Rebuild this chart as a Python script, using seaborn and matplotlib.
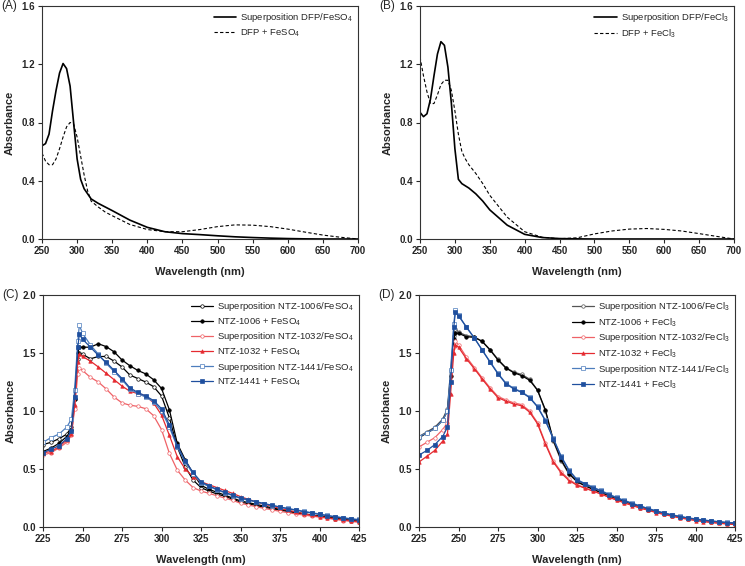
import matplotlib
matplotlib.use("Agg")
import matplotlib.pyplot as plt
import seaborn as sns

# panel A / B : DFP with iron salts
wl_ab = [250, 255, 260, 265, 270, 275, 280, 285, 290, 295, 300, 305, 310, 315, 320,
         330, 340, 350, 375, 400, 425, 450, 475, 500, 525, 550, 575, 600, 625, 650, 675, 700]
a_sup = [0.64, 0.655, 0.72, 0.88, 1.02, 1.14, 1.205, 1.17, 1.05, 0.80, 0.55, 0.41, 0.345, 0.31, 0.275,
         0.245, 0.22, 0.195, 0.13, 0.08, 0.05, 0.037, 0.03, 0.022, 0.015, 0.01, 0.006, 0.003, 0.001, 0.0, 0.0, 0.0]
a_mix = [0.59, 0.535, 0.51, 0.51, 0.55, 0.62, 0.70, 0.77, 0.80, 0.79, 0.70, 0.57, 0.44, 0.33, 0.26,
         0.22, 0.185, 0.16, 0.10, 0.065, 0.05, 0.05, 0.065, 0.085, 0.097, 0.095, 0.085, 0.068, 0.047, 0.027, 0.012, 0.0]
b_sup = [0.87, 0.84, 0.86, 0.96, 1.12, 1.27, 1.355, 1.33, 1.18, 0.93, 0.62, 0.41, 0.38, 0.365, 0.35,
         0.31, 0.26, 0.20, 0.095, 0.032, 0.01, 0.003, 0.001, 0.0, 0.0, 0.0, 0.0, 0.0, 0.0, 0.0, 0.0, 0.0]
b_mix = [1.25, 1.12, 1.01, 0.93, 0.93, 0.99, 1.06, 1.09, 1.09, 1.02, 0.88, 0.72, 0.60, 0.55, 0.51,
         0.45, 0.38, 0.30, 0.15, 0.05, 0.012, 0.002, 0.008, 0.035, 0.055, 0.068, 0.072, 0.066, 0.055, 0.037, 0.018, 0.0]

# panel C / D : NTZ compounds
wl_cd = [225, 230, 235, 240, 243, 245, 247, 248, 250, 255, 260, 265, 270, 275, 280, 285, 290, 295,
         300, 305, 310, 315, 320, 325, 330, 335, 340, 345, 350, 355, 360, 365, 370, 375, 380, 385,
         390, 395, 400, 405, 410, 415, 420, 425]

c_sup1006 = [0.71, 0.73, 0.76, 0.80, 0.86, 1.10, 1.45, 1.50, 1.49, 1.45, 1.47, 1.47, 1.43, 1.38, 1.31, 1.28, 1.25, 1.21,
             1.13, 0.94, 0.69, 0.52, 0.405, 0.34, 0.31, 0.285, 0.265, 0.24, 0.215, 0.20, 0.185, 0.17, 0.158, 0.145, 0.133, 0.122,
             0.112, 0.103, 0.095, 0.085, 0.075, 0.066, 0.058, 0.05]
c_1006 = [0.65, 0.68, 0.72, 0.78, 0.84, 1.10, 1.50, 1.55, 1.55, 1.55, 1.58, 1.555, 1.51, 1.44, 1.39, 1.35, 1.32, 1.27,
          1.195, 1.01, 0.72, 0.58, 0.46, 0.36, 0.325, 0.30, 0.275, 0.25, 0.225, 0.21, 0.195, 0.18, 0.165, 0.152, 0.14, 0.128,
          0.115, 0.103, 0.092, 0.082, 0.072, 0.063, 0.054, 0.046]
c_sup1032 = [0.62, 0.64, 0.68, 0.73, 0.79, 1.02, 1.32, 1.37, 1.35, 1.29, 1.25, 1.19, 1.12, 1.07, 1.05, 1.04, 1.02, 0.96,
             0.84, 0.635, 0.49, 0.405, 0.34, 0.31, 0.29, 0.27, 0.25, 0.23, 0.205, 0.19, 0.175, 0.16, 0.148, 0.135, 0.124, 0.113,
             0.103, 0.094, 0.085, 0.075, 0.065, 0.056, 0.048, 0.04]
c_1032 = [0.64, 0.65, 0.69, 0.75, 0.80, 1.05, 1.42, 1.49, 1.47, 1.43, 1.38, 1.325, 1.27, 1.215, 1.17, 1.15, 1.13, 1.07,
          0.965, 0.79, 0.605, 0.50, 0.434, 0.39, 0.365, 0.34, 0.315, 0.29, 0.262, 0.238, 0.215, 0.195, 0.178, 0.16, 0.145, 0.13,
          0.115, 0.10, 0.09, 0.08, 0.07, 0.062, 0.054, 0.046]
c_sup1441 = [0.73, 0.77, 0.80, 0.86, 0.93, 1.18, 1.60, 1.74, 1.67, 1.57, 1.49, 1.41, 1.34, 1.27, 1.19, 1.15, 1.12, 1.08,
             1.00, 0.86, 0.69, 0.56, 0.46, 0.38, 0.35, 0.32, 0.295, 0.27, 0.245, 0.23, 0.215, 0.20, 0.185, 0.172, 0.16, 0.148,
             0.136, 0.124, 0.112, 0.10, 0.09, 0.08, 0.072, 0.065]
c_1441 = [0.64, 0.67, 0.70, 0.76, 0.83, 1.12, 1.55, 1.66, 1.62, 1.55, 1.48, 1.42, 1.35, 1.28, 1.20, 1.16, 1.13, 1.09,
          1.02, 0.88, 0.70, 0.57, 0.47, 0.39, 0.355, 0.325, 0.30, 0.275, 0.25, 0.235, 0.218, 0.202, 0.187, 0.172, 0.158, 0.145,
          0.132, 0.12, 0.108, 0.097, 0.087, 0.077, 0.068, 0.06]

d_sup1006 = [0.78, 0.82, 0.86, 0.93, 1.02, 1.35, 1.65, 1.71, 1.68, 1.65, 1.64, 1.60, 1.53, 1.445, 1.375, 1.335, 1.315, 1.275,
             1.18, 1.00, 0.74, 0.57, 0.455, 0.395, 0.36, 0.33, 0.30, 0.272, 0.245, 0.22, 0.195, 0.173, 0.152, 0.133, 0.116, 0.101,
             0.088, 0.076, 0.066, 0.057, 0.049, 0.042, 0.036, 0.031]
d_1006 = [0.77, 0.81, 0.85, 0.92, 1.00, 1.30, 1.62, 1.67, 1.67, 1.64, 1.635, 1.60, 1.525, 1.44, 1.37, 1.33, 1.305, 1.265,
          1.18, 1.01, 0.75, 0.58, 0.46, 0.39, 0.355, 0.325, 0.295, 0.268, 0.24, 0.215, 0.19, 0.168, 0.148, 0.13, 0.113, 0.098,
          0.085, 0.073, 0.063, 0.054, 0.046, 0.039, 0.033, 0.028]
d_sup1032 = [0.69, 0.73, 0.77, 0.84, 0.90, 1.25, 1.55, 1.60, 1.57, 1.465, 1.375, 1.285, 1.20, 1.125, 1.095, 1.07, 1.055, 1.00,
             0.90, 0.725, 0.57, 0.475, 0.41, 0.365, 0.338, 0.312, 0.287, 0.26, 0.234, 0.21, 0.187, 0.166, 0.146, 0.127, 0.11, 0.095,
             0.081, 0.069, 0.058, 0.049, 0.041, 0.034, 0.028, 0.023]
d_1032 = [0.56, 0.61, 0.66, 0.74, 0.80, 1.15, 1.50, 1.57, 1.55, 1.45, 1.365, 1.275, 1.19, 1.115, 1.085, 1.06, 1.045, 0.99,
          0.89, 0.715, 0.56, 0.465, 0.40, 0.36, 0.335, 0.31, 0.285, 0.258, 0.232, 0.208, 0.185, 0.164, 0.144, 0.125, 0.108, 0.093,
          0.079, 0.067, 0.056, 0.047, 0.039, 0.032, 0.026, 0.021]
d_sup1441 = [0.78, 0.81, 0.85, 0.92, 1.00, 1.35, 1.75, 1.875, 1.83, 1.72, 1.63, 1.525, 1.425, 1.325, 1.24, 1.195, 1.165, 1.12,
             1.04, 0.92, 0.765, 0.61, 0.49, 0.41, 0.375, 0.345, 0.315, 0.285, 0.255, 0.23, 0.205, 0.182, 0.16, 0.14, 0.122, 0.106,
             0.092, 0.08, 0.07, 0.061, 0.053, 0.046, 0.04, 0.035]
d_1441 = [0.62, 0.66, 0.71, 0.78, 0.86, 1.25, 1.72, 1.85, 1.82, 1.725, 1.63, 1.525, 1.42, 1.32, 1.235, 1.19, 1.16, 1.115,
          1.035, 0.915, 0.76, 0.605, 0.485, 0.405, 0.37, 0.34, 0.31, 0.28, 0.25, 0.226, 0.202, 0.179, 0.158, 0.138, 0.12, 0.104,
          0.09, 0.078, 0.068, 0.059, 0.051, 0.044, 0.038, 0.033]

sns.set_style("ticks")
plt.rcParams["font.family"] = ["Liberation Sans", "DejaVu Sans"]
plt.rcParams["mathtext.default"] = "regular"
plt.rcParams["xtick.direction"] = "out"
plt.rcParams["ytick.direction"] = "out"

W, H = 745, 566
fig = plt.figure(figsize=(W / 100, H / 100), dpi=100)


def make_ax(x0, x1, y0, y1):
    return fig.add_axes([x0 / W, 1 - y1 / H, (x1 - x0) / W, (y1 - y0) / H])


axA = make_ax(42, 358, 6, 239)
axB = make_ax(420, 734, 6, 239)
axC = make_ax(43, 359, 295, 527)
axD = make_ax(419, 735, 295, 527)

# top row
sns.lineplot(x=wl_ab, y=a_sup, ax=axA, color="black", lw=1.2, label="Superposition DFP/FeSO$_4$")
sns.lineplot(x=wl_ab, y=a_mix, ax=axA, color="black", lw=0.8, linestyle=(0, (3, 2)), label="DFP + FeSO$_4$")
sns.lineplot(x=wl_ab, y=b_sup, ax=axB, color="black", lw=1.2, label="Superposition DFP/FeCl$_3$")
sns.lineplot(x=wl_ab, y=b_mix, ax=axB, color="black", lw=0.8, linestyle=(0, (3, 2)), label="DFP + FeCl$_3$")

# bottom row
red = "#e52a30"
red_l = "#ef6267"
blue = "#1f4f9e"
blue_l = "#4d7dbd"


def ntz(ax, ys, salt, c1006):
    series = [
        (ys[0], f"Superposition NTZ-1006/{salt}", c1006, "o", "white"),
        (ys[1], f"NTZ-1006 + {salt}", "black", "o", "black"),
        (ys[2], f"Superposition NTZ-1032/{salt}", red_l, "o", "white"),
        (ys[3], f"NTZ-1032 + {salt}", red, "^", red),
        (ys[4], f"Superposition NTZ-1441/{salt}", blue_l, "s", "white"),
        (ys[5], f"NTZ-1441 + {salt}", blue, "s", blue),
    ]
    for y, lab, col, mk, fc in series:
        sns.lineplot(x=wl_cd, y=y, ax=ax, color=col, lw=0.9, marker=mk, markersize=2.5,
                     markerfacecolor=fc, markeredgecolor=col, markeredgewidth=0.5, label=lab)


ntz(axC, [c_sup1006, c_1006, c_sup1032, c_1032, c_sup1441, c_1441], "FeSO$_4$", "black")
ntz(axD, [d_sup1006, d_1006, d_sup1032, d_1032, d_sup1441, d_1441], "FeCl$_3$", "#555555")

for ax, lab in [(axA, "(A)"), (axB, "(B)"), (axC, "(C)"), (axD, "(D)")]:
    for s in ax.spines.values():
        s.set_linewidth(0.8)
        s.set_color("#333333")
    ax.tick_params(length=3, width=0.8, pad=2, labelsize=7)
    for t in ax.get_xticklabels() + ax.get_yticklabels():
        t.set_fontweight("bold")
    ax.set_xlabel("Wavelength (nm)", fontsize=8, fontweight="bold", labelpad=8)
    ax.set_ylabel("Absorbance", fontsize=8, fontweight="bold", labelpad=5)
    ax.legend(loc="upper right", frameon=False, fontsize=6.8, handlelength=2.4,
              handletextpad=0.4, labelspacing=0.3, borderaxespad=0.15)
    ax.text(-0.13, 1.0, lab, transform=ax.transAxes, fontsize=8.5, ha="left", va="center")

for ax in (axA, axB):
    ax.set_xlim(250, 700)
    ax.set_ylim(0, 1.6)
    ax.set_xticks(range(250, 701, 50))
    ax.set_yticks([0, 0.4, 0.8, 1.2, 1.6])
    ax.set_yticklabels(["0.0", "0.4", "0.8", "1.2", "1.6"], fontweight="bold")

for ax in (axC, axD):
    ax.set_xlim(225, 425)
    ax.set_ylim(0, 2.0)
    ax.set_xticks(range(225, 426, 25))
    ax.set_yticks([0, 0.5, 1.0, 1.5, 2.0])
    ax.set_yticklabels(["0.0", "0.5", "1.0", "1.5", "2.0"], fontweight="bold")

fig.savefig("out.png", dpi=100)
